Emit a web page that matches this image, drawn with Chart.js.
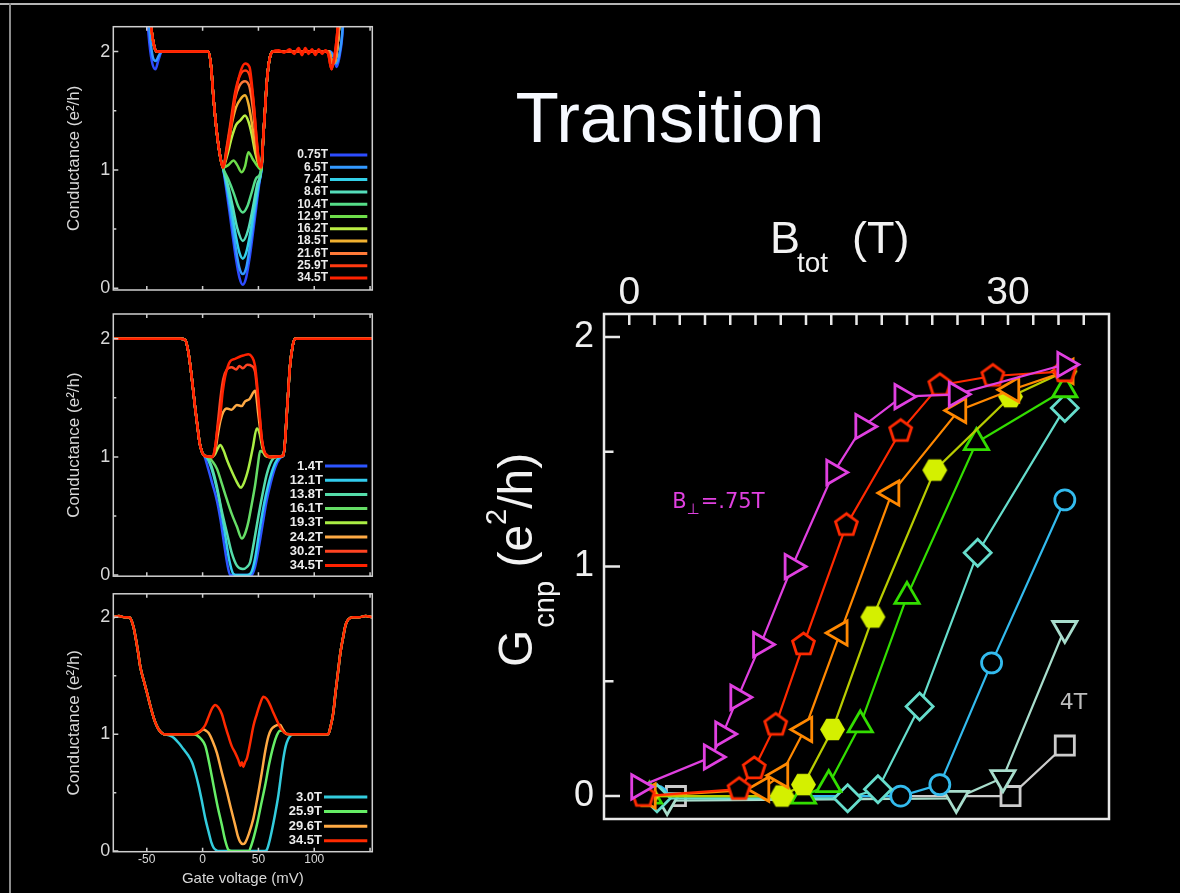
<!doctype html>
<html>
<head>
<meta charset="utf-8">
<script src="https://cdn.jsdelivr.net/npm/chart.js@4.4.1/dist/chart.umd.min.js"></script>
<style>
  html, body { margin: 0; padding: 0; background: #000; }
  #wrap { position: relative; width: 1180px; height: 893px; overflow: hidden; background: #000; }
  canvas { position: absolute; }
</style>
</head>
<body>
<div id="wrap">
  <canvas id="main" width="1180" height="893" style="left:0;top:0"></canvas>
  <canvas id="p1" width="360" height="300" style="left:20px;top:10px"></canvas>
  <canvas id="p2" width="360" height="290" style="left:20px;top:300px"></canvas>
  <canvas id="p3" width="360" height="313" style="left:20px;top:580px"></canvas>
</div>
<script>
// ---------- main plot: G_cnp vs B_tot ----------
const magX = [0.75, 6.5, 7.4, 8.6, 10.4, 12.9, 16.2, 18.5, 21.6, 25.9, 34.5];
const magY = [0.04, 0.17, 0.27, 0.43, 0.66, 1.0, 1.41, 1.61, 1.74, 1.75, 1.88];
const redX = [1.1, 8.7, 9.9, 11.6, 13.8, 17.2, 21.5, 24.6, 28.8, 34.5];
const redY = [0.0, 0.03, 0.12, 0.31, 0.66, 1.18, 1.59, 1.79, 1.83, 1.85];
const orgX = [1.5, 10.5, 12.0, 13.9, 16.7, 20.8, 26.1, 30.3, 34.6];
const orgY = [0.0, 0.03, 0.09, 0.29, 0.71, 1.32, 1.68, 1.77, 1.85];
const hexX = [1.4, 12.1, 13.8, 16.1, 19.3, 24.2, 30.2, 34.5];
const hexY = [0.0, 0.0, 0.05, 0.29, 0.78, 1.42, 1.74, 1.85];
const grnX = [1.6, 13.8, 15.8, 18.3, 22.0, 27.5, 34.5];
const grnY = [0.0, 0.0, 0.05, 0.31, 0.87, 1.54, 1.77];
const dmdX = [2.2, 17.3, 19.7, 23.0, 27.6, 34.5];
const dmdY = [-0.01, -0.01, 0.03, 0.39, 1.06, 1.69];
const cirX = [2.2, 21.5, 24.6, 28.7, 34.5];
const cirY = [0.0, 0.0, 0.05, 0.58, 1.29];
const dtrX = [3.0, 25.9, 29.6, 34.5];
const dtrY = [-0.02, -0.01, 0.08, 0.73];
const sqrX = [3.7, 30.2, 34.5];
const sqrY = [0.0, 0.0, 0.22];

const bTicks = [0, 30];
const bMinor = [0, 2, 4, 6, 8, 10, 12, 14, 16, 18, 20, 22, 24, 26, 28, 30, 32, 34, 36];
const gTicks = [0, 1, 2];
const gMinor = [0.5, 1.5];

// ---------- left panels: conductance vs gate voltage ----------
const gateTicks = [-50, 0, 50, 100];
const gateMarks = [-50, 0, 50, 100, 150];
const condTicks = [0, 1, 2];

// panel 1 (B_perp = 0.75T series)
const p1LeftBlue = [[-51, 2.5], [-48.5, 2.15], [-45.5, 1.92], [-42.3, 1.85], [-39.5, 1.93], [-36.5, 2.0]];
const p1LeftLb = [[-50, 2.5], [-47, 2.12], [-44.5, 1.95], [-42, 1.92], [-39, 1.97], [-36.5, 2.0]];
const p1LeftRest = [[-49, 2.5], [-46, 2.2], [-43.5, 2.05], [-41, 2.0]];
const p1Plateau = [[-35, 2.0], [-25, 2.0], [-15, 2.0], [-5, 2.0], [5, 2.0], [7.5, 1.88], [9.8, 1.6], [12.8, 1.31], [15.8, 1.11], [18.2, 1.02]];
const p1Rise = [[54.5, 1.3], [56, 1.52], [57.4, 1.73], [59, 1.88], [60.5, 1.96], [63, 2.0], [70, 2.0], [80, 2.0], [90, 2.0], [100, 2.0], [110, 2.0]];
const p1RiseRed = [[54.5, 1.3], [56, 1.52], [57.4, 1.73], [59, 1.88], [60.5, 1.96], [63, 2.0], [68, 2.01], [73, 1.99], [78, 2.02], [82, 1.98], [86, 2.03], [89, 1.97], [92, 2.03], [95, 1.98], [98, 2.02], [101, 1.97], [104, 2.02], [107, 1.98], [110, 2.01]];
const p1RightBlue = [[114, 2.0], [117, 1.97], [120, 1.87], [122.5, 1.95], [125, 2.12], [127.5, 2.5]];
const p1RightLb = [[114, 2.0], [117.5, 1.95], [120, 1.9], [122.5, 1.98], [125, 2.15], [127, 2.5]];
const p1RightRest = [[113, 2.0], [116.5, 1.9], [119, 1.93], [121.5, 2.12], [124.5, 2.5]];
const p1RightRed = [[112.5, 1.98], [115.5, 1.85], [118, 1.95], [120.5, 2.15], [123, 2.5]];
const p1c075 = [[21, 0.85], [24, 0.65], [27, 0.44], [30, 0.24], [33, 0.09], [36, 0.03], [39, 0.09], [42, 0.25], [45, 0.46], [48, 0.68], [51, 0.9], [53, 1.02]];
const p1c65 = [[22, 0.83], [26, 0.58], [30, 0.32], [33, 0.17], [36, 0.12], [39, 0.17], [42, 0.33], [46, 0.6], [50, 0.86], [52.5, 1.0]];
const p1c74 = [[22, 0.86], [26, 0.66], [30, 0.43], [33, 0.3], [36, 0.25], [39, 0.3], [42, 0.43], [46, 0.66], [50, 0.88], [52.5, 1.0]];
const p1c86 = [[23, 0.86], [27, 0.69], [31, 0.51], [36, 0.4], [41, 0.5], [45, 0.68], [49, 0.88], [52.5, 1.0]];
const p1c104 = [[23, 0.92], [28, 0.8], [32, 0.69], [36, 0.64], [40, 0.69], [44, 0.81], [48, 0.93], [52.5, 1.0]];
const p1c129 = [[23, 1.04], [27.7, 1.08], [31, 1.04], [35, 0.98], [38, 1.03], [41, 1.15], [45, 1.09], [48.5, 1.04], [52.5, 1.0]];
const p1c162 = [[22, 1.12], [26, 1.27], [30, 1.38], [34, 1.42], [38, 1.46], [41, 1.41], [44, 1.3], [47, 1.15], [50, 1.05], [52.5, 1.02]];
const p1c185 = [[22, 1.16], [26, 1.38], [30, 1.53], [34, 1.6], [38, 1.63], [41, 1.56], [44, 1.4], [47, 1.2], [50, 1.06], [52.5, 1.02]];
const p1c216 = [[22, 1.2], [25, 1.37], [29, 1.6], [33, 1.71], [38, 1.75], [42, 1.7], [45, 1.52], [48, 1.25], [50.5, 1.06], [52.5, 1.02]];
const p1c259 = [[22, 1.22], [25, 1.4], [29, 1.65], [33, 1.79], [38, 1.84], [42, 1.8], [45.5, 1.58], [48.5, 1.24], [50.8, 1.05], [52.5, 1.02]];
const p1c345 = [[21, 1.12], [24.7, 1.31], [29.2, 1.62], [33.6, 1.82], [38.1, 1.9], [42, 1.87], [45.5, 1.59], [48.5, 1.25], [50.9, 1.04], [52.5, 1.03]];

// panel 2
const p2Left = [[-80, 2.0], [-70, 2.0], [-60, 2.0], [-50, 2.0], [-40, 2.0], [-30, 2.0], [-20, 2.0], [-15.5, 1.99], [-13, 1.9], [-11, 1.77], [-8.5, 1.57], [-6.5, 1.4], [-4.5, 1.25], [-2.7, 1.12], [-0.5, 1.04], [1.5, 1.01]];
const p2Right = [[72.3, 1.01], [74, 1.15], [75.3, 1.35], [76.8, 1.57], [78.3, 1.77], [80.5, 1.93], [82.7, 2.0], [90, 2.0], [100, 2.0], [110, 2.0], [120, 2.0], [130, 2.0], [140, 2.0], [152, 2.0]];
const p2c14 = [[5, 0.9], [8.5, 0.78], [12.8, 0.63], [16, 0.47], [19, 0.28], [22, 0.1], [24.7, 0.0], [30, 0.0], [38, 0.0], [44, 0.0], [47, 0.07], [51, 0.27], [54.5, 0.47], [57.4, 0.63], [61, 0.78], [65, 0.91], [69.3, 0.99], [71, 1.0]];
const p2c121 = [[4, 0.99], [8, 0.9], [12, 0.76], [16, 0.58], [20, 0.35], [24, 0.12], [27.5, 0.01], [31, 0.0], [40, 0.0], [43.5, 0.02], [47, 0.14], [51, 0.38], [55, 0.6], [59, 0.77], [63, 0.9], [67, 0.98], [70, 1.0]];
const p2c138 = [[4, 1.0], [8, 0.92], [12.8, 0.75], [17, 0.55], [21.7, 0.36], [26, 0.19], [30.7, 0.08], [36, 0.05], [40, 0.07], [42.6, 0.11], [46, 0.28], [50, 0.5], [54, 0.7], [57.4, 0.85], [62, 0.97], [66, 1.0]];
const p2c161 = [[5, 1.0], [9, 0.96], [12.8, 0.9], [17, 0.78], [21.7, 0.64], [26, 0.52], [30.7, 0.41], [35.1, 0.31], [38, 0.35], [41, 0.45], [44, 0.6], [47, 0.76], [49.5, 0.93], [51.5, 1.05], [54, 1.04], [57, 1.01], [60.4, 1.0]];
const p2c193 = [[8, 1.0], [11, 1.02], [13.5, 1.07], [15.8, 1.1], [18.5, 1.06], [22, 0.97], [26, 0.88], [30, 0.8], [34.2, 0.74], [37, 0.78], [41, 0.9], [45, 1.08], [48.5, 1.24], [51, 1.2], [53.5, 1.08], [56, 1.01], [59, 1.0]];
const p2c242 = [[9, 1.0], [11.5, 1.06], [13.5, 1.18], [15.8, 1.3], [18.5, 1.38], [21.7, 1.41], [26, 1.4], [30.7, 1.44], [35, 1.43], [38, 1.47], [42, 1.49], [47, 1.56], [50, 1.35], [52, 1.2], [54.5, 1.06], [57, 1.01], [60, 1.0]];
const p2c302 = [[9, 1.0], [11.5, 1.1], [13.8, 1.3], [16, 1.5], [18.5, 1.66], [21.7, 1.74], [26, 1.76], [30, 1.74], [33, 1.77], [36, 1.75], [40, 1.78], [44, 1.77], [47, 1.72], [49, 1.55], [51.5, 1.3], [53.5, 1.12], [56, 1.03], [59, 1.0]];
const p2c345 = [[9, 1.0], [11.5, 1.1], [13.5, 1.25], [15.8, 1.35], [18, 1.55], [20.2, 1.68], [24.7, 1.81], [29, 1.83], [33.6, 1.85], [37, 1.86], [41, 1.87], [44, 1.85], [47, 1.77], [50, 1.49], [53, 1.15], [55, 1.05], [57.4, 1.02], [60, 1.0]];

// panel 3
const p3Left = [[-80, 2.0], [-75, 2.01], [-70, 2.0], [-66, 2.0], [-64.6, 1.99], [-62, 1.92], [-60.1, 1.83], [-57.8, 1.7], [-55.7, 1.57], [-52.5, 1.45], [-49.7, 1.35], [-46.5, 1.23], [-43.8, 1.14], [-41.5, 1.08], [-39.3, 1.04], [-36.5, 1.01], [-34.8, 1.0]];
const p3Right = [[112.5, 1.0], [114.5, 1.06], [117, 1.18], [119, 1.35], [121.4, 1.54], [123.5, 1.7], [125.9, 1.83], [128, 1.93], [130.4, 1.98], [134.8, 2.0], [140, 2.0], [146, 2.01], [152, 2.0]];
const p3c30 = [[-30, 0.99], [-25.9, 0.97], [-21, 0.92], [-17, 0.87], [-13, 0.82], [-9.5, 0.76], [-6.5, 0.67], [-3.6, 0.56], [-0.5, 0.42], [2.4, 0.28], [5.5, 0.16], [8, 0.07], [9.8, 0.03], [12, 0.01], [14.3, 0.0], [30, 0.0], [45, 0.0], [55, 0.0], [57.4, 0.01], [59.5, 0.07], [61.9, 0.17], [65, 0.32], [67.9, 0.48], [70, 0.63], [72.3, 0.79], [74.5, 0.9], [76.8, 0.96], [79, 0.99], [81.3, 1.0], [95, 1.0], [110, 1.0]];
const p3c259 = [[-20, 1.0], [-8, 1.0], [-5, 0.99], [-1.5, 0.96], [2.4, 0.9], [6, 0.75], [9.8, 0.56], [13.5, 0.38], [17.3, 0.22], [20, 0.1], [23.2, 0.01], [26, 0.0], [35, 0.0], [41, 0.0], [44, 0.06], [48.5, 0.22], [52, 0.38], [56, 0.56], [59.5, 0.74], [63.4, 0.9], [66.5, 0.99], [69.3, 1.03], [71.5, 1.03], [73.8, 1.01], [78, 1.0], [95, 1.0], [110, 1.0]];
const p3c296 = [[-20, 1.0], [-6.5, 1.0], [-2.5, 1.02], [0.9, 1.04], [3, 1.03], [5.4, 1.01], [9, 0.94], [12.8, 0.84], [17, 0.68], [21.7, 0.51], [25.5, 0.36], [29.2, 0.22], [31.5, 0.13], [33.6, 0.08], [36, 0.06], [38, 0.07], [41.5, 0.15], [45.5, 0.28], [49, 0.45], [53, 0.67], [56, 0.85], [58.9, 0.98], [61.5, 1.04], [64.9, 1.07], [69.3, 1.08], [72, 1.04], [75.3, 1.0], [95, 1.0], [110, 1.0]];
const p3c345 = [[-20, 1.0], [-8, 1.0], [-3, 1.02], [-0.6, 1.04], [2.5, 1.08], [5.4, 1.15], [8.5, 1.22], [11.3, 1.25], [14, 1.23], [17.3, 1.17], [20, 1.08], [23.2, 0.98], [26, 0.9], [29.2, 0.84], [32, 0.78], [34, 0.73], [35.1, 0.76], [36.5, 0.72], [38, 0.76], [39.6, 0.79], [42.5, 0.92], [45.5, 1.07], [48.5, 1.17], [51.5, 1.26], [54.5, 1.32], [57.5, 1.3], [60.4, 1.25], [63.5, 1.18], [66.4, 1.12], [70, 1.05], [73.8, 1.01], [78.3, 1.0], [95, 1.0], [110, 1.0]];

Chart.defaults.font.family = '"Liberation Sans", Arial, sans-serif';
Chart.defaults.color = '#dddddd';

// ---------- markers ----------
function polyMarker(n, r, stroke, fill, rot) {
  const c = document.createElement('canvas');
  const s = Math.ceil(2 * r + 6);
  c.width = c.height = s;
  const g = c.getContext('2d');
  g.beginPath();
  for (let k = 0; k < n; k++) {
    const a = rot + k * 2 * Math.PI / n;
    const px = s / 2 + r * Math.sin(a), py = s / 2 - r * Math.cos(a);
    if (k) g.lineTo(px, py); else g.moveTo(px, py);
  }
  g.closePath();
  g.fillStyle = fill;
  g.fill();
  if (stroke) { g.strokeStyle = stroke; g.lineWidth = 2.8; g.stroke(); }
  return c;
}
const pentagon = polyMarker(5, 11.5, '#ff2a00', '#000', 0);
const hexagon = polyMarker(6, 12.5, null, '#d4f000', Math.PI / 6);

function series(xs, ys, o) {
  return Object.assign({
    data: xs.map((x, i) => ({ x: x, y: ys[i] })),
    showLine: true, borderWidth: 2.2, pointBorderWidth: 2.8,
    pointBackgroundColor: '#000', tension: 0
  }, o);
}

const mainDecor = {
  id: 'mainDecor',
  afterDraw(chart) {
    const { ctx, chartArea: a, scales: { x, y } } = chart;
    ctx.save();
    // slide edges
    ctx.fillStyle = '#b4b4b4';
    ctx.fillRect(0, 3, 1180, 2);
    ctx.fillStyle = '#8c8c8c';
    ctx.fillRect(9, 3, 2, 890);
    // frame and inward ticks
    ctx.strokeStyle = '#e8e8e8';
    ctx.lineWidth = 2.5;
    ctx.strokeRect(a.left, a.top, a.right - a.left, a.bottom - a.top);
    ctx.beginPath();
    bMinor.forEach(v => { const px = x.getPixelForValue(v); ctx.moveTo(px, a.top); ctx.lineTo(px, a.top + 11); });
    gTicks.forEach(v => { const py = y.getPixelForValue(v); ctx.moveTo(a.left, py); ctx.lineTo(a.left + 16, py); });
    gMinor.forEach(v => { const py = y.getPixelForValue(v); ctx.moveTo(a.left, py); ctx.lineTo(a.left + 9.5, py); });
    ctx.stroke();

    // title
    ctx.fillStyle = '#f6f9ff';
    ctx.textBaseline = 'alphabetic';
    ctx.textAlign = 'center';
    ctx.font = '71px "Liberation Sans", Arial, sans-serif';
    ctx.fillText('Transition', 670, 142);

    // B_tot (T)
    ctx.textAlign = 'left';
    ctx.fillStyle = '#f2f2f2';
    ctx.font = '45px "Liberation Sans", Arial, sans-serif';
    ctx.fillText('B', 770, 253);
    ctx.font = '28px "Liberation Sans", Arial, sans-serif';
    ctx.fillText('tot', 797, 272);
    ctx.font = '45px "Liberation Sans", Arial, sans-serif';
    ctx.fillText('(T)', 852, 253);

    // G_cnp (e2/h)
    ctx.save();
    ctx.translate(532, 667);
    ctx.rotate(-Math.PI / 2);
    const big = '48px "Liberation Sans", Arial, sans-serif';
    const small = '29px "Liberation Sans", Arial, sans-serif';
    let cx = 0;
    ctx.font = big; ctx.fillText('G', cx, 0); cx += ctx.measureText('G').width + 2;
    ctx.font = small; ctx.fillText('cnp', cx, 22); cx += ctx.measureText('cnp').width;
    ctx.font = big; cx += ctx.measureText(' ').width; ctx.fillText('(e', cx, 0); cx += ctx.measureText('(e').width;
    ctx.font = small; ctx.fillText('2', cx, -26); cx += ctx.measureText('2').width;
    ctx.font = big; ctx.fillText('/h)', cx, 0);
    ctx.restore();

    // annotations
    const lx = x.getPixelForValue(3.4), ly = y.getPixelForValue(1.255);
    ctx.fillStyle = '#e040e0';
    ctx.font = '21px "DejaVu Sans", sans-serif';
    ctx.fillText('B', lx, ly);
    let w = ctx.measureText('B').width;
    ctx.font = '15px "DejaVu Sans", sans-serif';
    ctx.fillText('\u22A5', lx + w, ly + 6);
    w += ctx.measureText('\u22A5').width + 1;
    ctx.font = '21px "DejaVu Sans", sans-serif';
    ctx.fillText('=.75T', lx + w, ly);

    ctx.fillStyle = '#bdbdbd';
    ctx.font = '22px "DejaVu Sans", sans-serif';
    ctx.fillText('4T', x.getPixelForValue(34.1), y.getPixelForValue(0.38));
    ctx.restore();
  }
};

new Chart(document.getElementById('main'), {
  type: 'scatter',
  data: {
    datasets: [
      series(magX, magY, { borderColor: '#e040e0', pointBorderColor: '#e040e0', pointStyle: 'triangle', pointRotation: 90, pointRadius: 14 }),
      series(redX, redY, { borderColor: '#ff2a00', pointStyle: pentagon }),
      series(orgX, orgY, { borderColor: '#ff8800', pointBorderColor: '#ff8800', pointStyle: 'triangle', pointRotation: 270, pointRadius: 14 }),
      series(hexX, hexY, { borderColor: '#b8cc00', pointStyle: hexagon }),
      series(grnX, grnY, { borderColor: '#33dd00', pointBorderColor: '#33dd00', pointStyle: 'triangle', pointRotation: 0, pointRadius: 14 }),
      series(dmdX, dmdY, { borderColor: '#66ddcc', pointBorderColor: '#66ddcc', pointStyle: 'rectRot', pointRadius: 13.5 }),
      series(cirX, cirY, { borderColor: '#33bbee', pointBorderColor: '#33bbee', pointStyle: 'circle', pointRadius: 10 }),
      series(dtrX, dtrY, { borderColor: '#a8ddcc', pointBorderColor: '#a8ddcc', pointStyle: 'triangle', pointRotation: 180, pointRadius: 14 }),
      series(sqrX, sqrY, { borderColor: '#cccccc', pointBorderColor: '#cccccc', pointStyle: 'rect', pointRadius: 13.5 })
    ]
  },
  options: {
    responsive: false, animation: false, events: [],
    layout: { padding: { left: 470, top: 150, right: 71, bottom: 74 } },
    plugins: { legend: { display: false }, tooltip: { enabled: false } },
    scales: {
      x: {
        type: 'linear', position: 'top', min: -2, max: 38,
        afterBuildTicks: s => { s.ticks = bTicks.map(v => ({ value: v })); },
        afterFit: s => { s.height = 164; },
        grid: { display: false, drawTicks: false }, border: { display: false },
        ticks: { padding: 1, color: '#f0f0f0', font: { size: 39, lineHeight: 1 }, maxRotation: 0, callback: v => String(v) }
      },
      y: {
        min: -0.1, max: 2.1,
        afterBuildTicks: s => { s.ticks = gTicks.map(v => ({ value: v })); },
        afterFit: s => { s.width = 134; },
        grid: { display: false, drawTicks: false }, border: { display: false },
        ticks: { padding: 10, color: '#f0f0f0', font: { size: 36, lineHeight: 1 }, callback: v => String(v) }
      }
    }
  },
  plugins: [mainDecor]
});

// ---------- panels ----------
function panel(id, cfg) {
  const decor = {
    id: 'panelDecor',
    afterDraw(chart) {
      const { ctx, chartArea: a, scales: { x, y } } = chart;
      ctx.save();
      ctx.strokeStyle = '#cfcfcf';
      ctx.lineWidth = 1.5;
      ctx.strokeRect(a.left, a.top, a.right - a.left, a.bottom - a.top);
      ctx.beginPath();
      gateMarks.forEach(v => {
        const px = x.getPixelForValue(v);
        ctx.moveTo(px, a.bottom); ctx.lineTo(px, a.bottom - 4);
        ctx.moveTo(px, a.top); ctx.lineTo(px, a.top + 4);
      });
      condTicks.forEach(v => { const py = y.getPixelForValue(v); ctx.moveTo(a.left, py); ctx.lineTo(a.left + 5, py); });
      [0.5, 1.5].forEach(v => { const py = y.getPixelForValue(v); ctx.moveTo(a.left, py); ctx.lineTo(a.left + 3, py); });
      ctx.stroke();
      // legend
      ctx.font = 'bold ' + cfg.legFont + 'px "Liberation Sans", Arial, sans-serif';
      ctx.textAlign = 'right';
      ctx.textBaseline = 'middle';
      chart.data.datasets.forEach((d, i) => {
        const ly = cfg.legY + i * cfg.legDy;
        ctx.fillStyle = '#ececec';
        ctx.fillText(d.label, cfg.legX, ly);
        ctx.strokeStyle = d.borderColor;
        ctx.lineWidth = 3;
        ctx.beginPath();
        ctx.moveTo(cfg.legX + 2, ly);
        ctx.lineTo(a.right - 5, ly);
        ctx.stroke();
      });
      ctx.restore();
    }
  };
  return new Chart(document.getElementById(id), {
    type: 'line',
    data: {
      datasets: cfg.curves.map((c, i) => ({
        label: c[0], borderColor: c[1], data: c[2].map(p => ({ x: p[0], y: p[1] })),
        borderWidth: 2.5, pointRadius: 0, cubicInterpolationMode: 'monotone', fill: false, order: -i
      }))
    },
    options: {
      responsive: false, animation: false, events: [],
      layout: { padding: { left: 0, top: cfg.padTop, right: 7.7, bottom: 0 } },
      plugins: { legend: { display: false }, tooltip: { enabled: false } },
      scales: {
        x: {
          type: 'linear', min: -80, max: 152,
          afterBuildTicks: s => { s.ticks = gateTicks.map(v => ({ value: v })); },
          afterFit: s => { s.height = cfg.xh; },
          grid: { display: false, drawTicks: false }, border: { display: false },
          ticks: { display: cfg.xlabels, padding: 1, color: '#d8d8d8', font: { size: 12 }, maxRotation: 0, callback: v => String(v) },
          title: { display: cfg.xlabels, text: 'Gate voltage (mV)', color: '#d8d8d8', font: { size: 15 }, padding: { top: 0, bottom: 5 } }
        },
        y: {
          type: 'linear', min: cfg.ymin, max: cfg.ymax,
          afterBuildTicks: s => { s.ticks = condTicks.map(v => ({ value: v })); },
          afterFit: s => { s.width = 93.3; },
          grid: { display: false, drawTicks: false }, border: { display: false },
          ticks: { padding: 3, color: '#d8d8d8', font: { size: 18 }, callback: v => String(v) },
          title: { display: true, text: 'Conductance (e\u00B2/h)', color: '#d8d8d8', font: { size: 17 }, padding: { top: 43.8, bottom: 0 } }
        }
      }
    },
    plugins: [decor]
  });
}

const cat = (...parts) => [].concat(...parts);

panel('p1', {
  padTop: 16.7, xh: 20, xlabels: false, ymin: -0.015, ymax: 2.21,
  legX: 308, legY: 145, legDy: 12.3, legFont: 12,
  curves: [
    ['0.75T', '#2d4cff', cat(p1LeftBlue, p1Plateau, p1c075, p1Rise, p1RightBlue)],
    ['6.5T', '#3399ff', cat(p1LeftLb, p1Plateau, p1c65, p1Rise, p1RightLb)],
    ['7.4T', '#33d0e8', cat(p1LeftRest, p1Plateau, p1c74, p1Rise, p1RightRest)],
    ['8.6T', '#55ddbb', cat(p1LeftRest, p1Plateau, p1c86, p1Rise, p1RightRest)],
    ['10.4T', '#55dd88', cat(p1LeftRest, p1Plateau, p1c104, p1Rise, p1RightRest)],
    ['12.9T', '#6edd4a', cat(p1LeftRest, p1Plateau, p1c129, p1Rise, p1RightRest)],
    ['16.2T', '#bbee44', cat(p1LeftRest, p1Plateau, p1c162, p1Rise, p1RightRest)],
    ['18.5T', '#f0b030', cat(p1LeftRest, p1Plateau, p1c185, p1Rise, p1RightRest)],
    ['21.6T', '#ff7a38', cat(p1LeftRest, p1Plateau, p1c216, p1Rise, p1RightRest)],
    ['25.9T', '#ff3a10', cat(p1LeftRest, p1Plateau, p1c259, p1Rise, p1RightRed)],
    ['34.5T', '#ff2200', cat(p1LeftRest, p1Plateau, p1c345, p1RiseRed, p1RightRed)]
  ]
});

panel('p2', {
  padTop: 14, xh: 13.3, xlabels: false, ymin: -0.01, ymax: 2.21,
  legX: 303, legY: 166, legDy: 14.2, legFont: 13,
  curves: [
    ['1.4T', '#2d55ff', cat(p2Left, p2c14, p2Right)],
    ['12.1T', '#33ccee', cat(p2Left, p2c121, p2Right)],
    ['13.8T', '#55ddaa', cat(p2Left, p2c138, p2Right)],
    ['16.1T', '#66dd66', cat(p2Left, p2c161, p2Right)],
    ['19.3T', '#aaee44', cat(p2Left, p2c193, p2Right)],
    ['24.2T', '#ffaa44', cat(p2Left, p2c242, p2Right)],
    ['30.2T', '#ff4422', cat(p2Left, p2c302, p2Right)],
    ['34.5T', '#ff2200', cat(p2Left, p2c345, p2Right)]
  ]
});

panel('p3', {
  padTop: 10, xh: 41.3, xlabels: true, ymin: -0.005, ymax: 2.2,
  legX: 302, legY: 217, legDy: 14.6, legFont: 13,
  curves: [
    ['3.0T', '#33ccdd', cat(p3Left, p3c30, p3Right)],
    ['25.9T', '#66ee66', cat(p3Left, p3c259, p3Right)],
    ['29.6T', '#ffaa44', cat(p3Left, p3c296, p3Right)],
    ['34.5T', '#ff2a00', cat(p3Left, p3c345, p3Right)]
  ]
});
</script>
</body>
</html>
